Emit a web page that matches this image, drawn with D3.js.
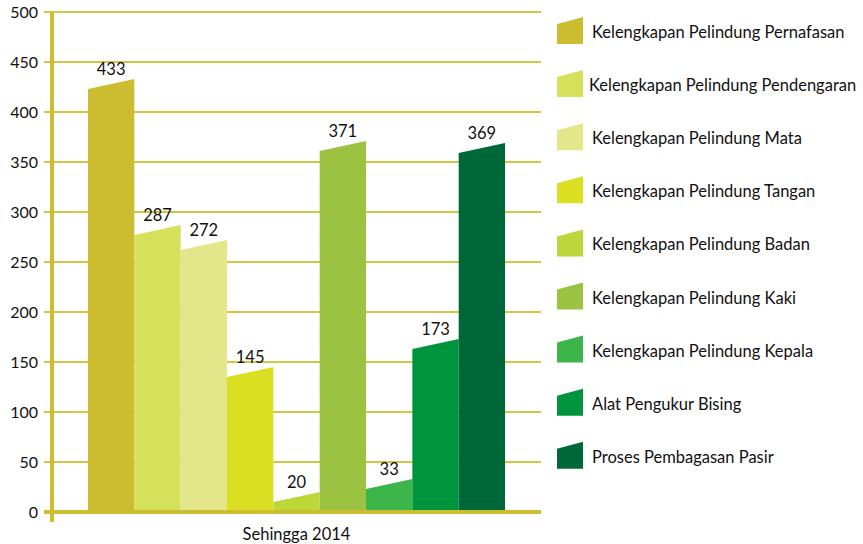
<html>
  <head>
    <style>
      body { margin: 0; background: #fff; }
      text { font-family: Lato, "Open Sans", sans-serif; fill: #111; }
    </style>
    <script src="https://d3js.org/d3.v7.min.js"></script>
  </head>
  <body>
    <div id="chart"></div>
    <script>
      // data
      var categories = ["Sehingga 2014"];
      var seriesNames = [
        "Kelengkapan Pelindung Pernafasan",
        "Kelengkapan Pelindung Pendengaran",
        "Kelengkapan Pelindung Mata",
        "Kelengkapan Pelindung Tangan",
        "Kelengkapan Pelindung Badan",
        "Kelengkapan Pelindung Kaki",
        "Kelengkapan Pelindung Kepala",
        "Alat Pengukur Bising",
        "Proses Pembagasan Pasir"
      ];
      var values = [433, 287, 272, 145, 20, 371, 33, 173, 369];
      var colors = ["#cbbd2f", "#d5e05b", "#e4e68a", "#dbdf22", "#bdd63a",
                    "#9bc240", "#3cb54a", "#00943f", "#006838"];
      var yTicks = [0, 50, 100, 150, 200, 250, 300, 350, 400, 450, 500];

      var width = 863, height = 544;
      var plot = {left: 52, right: 541, top: 12, bottom: 512};
      var slant = 10;

      var svg = d3.select("#chart").append("svg")
          .attr("width", width).attr("height", height);

      var y = d3.scaleLinear().domain([0, 500]).range([plot.bottom, plot.top]);
      var x0 = d3.scaleBand().domain(categories)
          .range([plot.left, plot.right]).paddingOuter(0.0863);
      var x1 = d3.scaleBand().domain(seriesNames).range([0, x0.bandwidth()]);

      var bars = seriesNames.map(function(s, i) {
        return {name: s, value: values[i], color: colors[i]};
      });

      // grid lines
      svg.append("g").selectAll("line")
          .data(yTicks.filter(function(d) { return d > 0; }))
          .enter().append("line")
          .attr("x1", plot.left - 8).attr("x2", plot.right)
          .attr("y1", function(d) { return y(d); })
          .attr("y2", function(d) { return y(d); })
          .attr("stroke", "#d3c545").attr("stroke-width", 2.2);

      // tick labels
      svg.append("g").selectAll("text")
          .data(yTicks).enter().append("text")
          .attr("x", 38).attr("y", function(d) { return y(d) + 6; })
          .attr("text-anchor", "end").style("font-size", "16px")
          .text(function(d) { return d; });

      // bars with slanted tops
      var g = svg.append("g").selectAll("g")
          .data(categories).enter().append("g")
          .attr("transform", function(c) { return "translate(" + x0(c) + ",0)"; });

      g.selectAll("path")
          .data(bars)
          .enter().append("path")
          .attr("fill", function(d) { return d.color; })
          .attr("d", function(d) {
            var xl = x1(d.name), xr = xl + x1.bandwidth();
            return "M" + xl + "," + y(0) + "L" + xl + "," + (y(d.value) + slant) +
                   "L" + xr + "," + y(d.value) + "L" + xr + "," + y(0) + "Z";
          });

      g.selectAll("text.val")
          .data(bars)
          .enter().append("text").attr("class", "val")
          .attr("x", function(d) { return x1(d.name) + x1.bandwidth() / 2; })
          .attr("y", function(d) { return y(d.value) - 4; })
          .attr("text-anchor", "middle").style("font-size", "16.5px")
          .text(function(d) { return d.value; });

      // axes
      svg.append("line")
          .attr("x1", plot.left - 8).attr("x2", plot.right)
          .attr("y1", y(0)).attr("y2", y(0))
          .attr("stroke", "#cdbd30").attr("stroke-width", 4);
      svg.append("line")
          .attr("x1", plot.left).attr("x2", plot.left)
          .attr("y1", plot.top).attr("y2", plot.bottom + 10)
          .attr("stroke", "#cdbd30").attr("stroke-width", 4);

      svg.append("g").selectAll("text")
          .data(categories).enter().append("text")
          .attr("x", function(c) { return x0(c) + x0.bandwidth() / 2; })
          .attr("y", 540).attr("text-anchor", "middle")
          .style("font-size", "16.5px")
          .text(function(c) { return c; });

      // legend
      var legend = svg.append("g").selectAll("g")
          .data(seriesNames).enter().append("g")
          .attr("transform", function(d, i) { return "translate(557," + (44 + i * 53.1) + ")"; });
      legend.append("path")
          .attr("fill", function(d, i) { return colors[i]; })
          .attr("d", "M0,0L0,-20L26,-27L26,0Z");
      legend.append("text")
          .attr("x", function(d, i) { return i == 1 ? 32 : 35; })
          .attr("y", -6).style("font-size", "16.5px")
          .text(function(d) { return d; });
    </script>
  </body>
</html>
